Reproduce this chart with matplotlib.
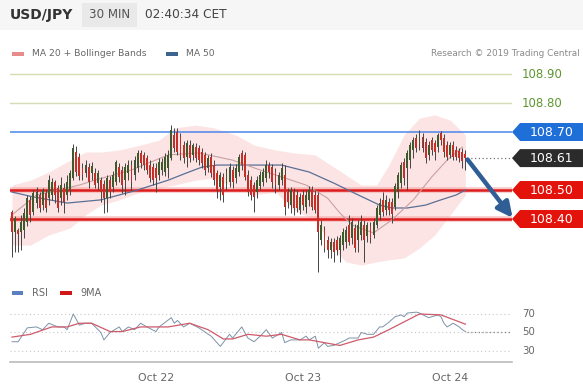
import numpy as np
import matplotlib
matplotlib.use("Agg")
import matplotlib.pyplot as plt
from matplotlib.patches import Polygon, Rectangle

# ---------------- data ----------------
opens = [108.424,108.355,108.362,108.355,108.362,108.390,108.466,108.424,108.455,108.483,
         108.448,108.490,108.472,108.483,108.528,108.507,108.472,108.507,108.483,108.500,
         108.541,108.631,108.614,108.576,108.559,108.579,108.559,108.559,108.524,108.534,
         108.521,108.472,108.534,108.510,108.528,108.579,108.569,108.534,108.559,108.586,
         108.552,108.576,108.628,108.621,108.610,108.586,108.579,108.576,108.552,108.569,
         108.562,108.576,108.610,108.690,108.700,108.683,108.655,108.614,108.655,108.621,
         108.648,108.645,108.631,108.621,108.576,108.614,108.586,108.559,108.510,108.545,
         108.517,108.528,108.569,108.541,108.562,108.628,108.621,108.552,108.534,108.517,
         108.493,108.514,108.528,108.541,108.586,108.579,108.562,108.517,108.534,108.552,
         108.493,108.448,108.493,108.483,108.431,108.483,108.441,108.466,108.500,108.483,
         108.483,108.328,108.362,108.328,108.293,108.321,108.328,108.293,108.310,108.321,
         108.379,108.334,108.369,108.328,108.345,108.379,108.341,108.376,108.345,108.379,
         108.414,108.466,108.431,108.459,108.459,108.441,108.493,108.524,108.597,108.576,
         108.603,108.638,108.679,108.655,108.683,108.666,108.621,108.672,108.662,108.648,
         108.697,108.679,108.655,108.621,108.655,108.638,108.634,108.631,108.624]
highs = [108.431,108.410,108.369,108.414,108.438,108.483,108.479,108.500,108.510,108.493,
         108.507,108.500,108.552,108.541,108.534,108.517,108.545,108.524,108.552,108.569,
         108.659,108.652,108.628,108.593,108.603,108.593,108.597,108.576,108.569,108.545,
         108.534,108.552,108.548,108.566,108.603,108.593,108.583,108.593,108.603,108.603,
         108.617,108.638,108.638,108.631,108.621,108.603,108.593,108.593,108.610,108.610,
         108.628,108.638,108.724,108.714,108.714,108.697,108.669,108.672,108.672,108.662,
         108.662,108.655,108.645,108.631,108.621,108.628,108.603,108.569,108.562,108.559,
         108.576,108.593,108.583,108.590,108.624,108.638,108.631,108.569,108.548,108.528,
         108.548,108.566,108.576,108.603,108.597,108.590,108.576,108.562,108.593,108.586,
         108.507,108.510,108.507,108.500,108.490,108.500,108.500,108.514,108.514,108.500,
         108.493,108.397,108.376,108.341,108.334,108.334,108.341,108.345,108.369,108.376,
         108.414,108.403,108.383,108.397,108.414,108.397,108.390,108.390,108.403,108.448,
         108.472,108.493,108.483,108.472,108.472,108.524,108.562,108.597,108.610,108.638,
         108.666,108.683,108.693,108.707,108.697,108.679,108.669,108.683,108.672,108.697,
         108.703,108.693,108.669,108.666,108.669,108.652,108.645,108.645,108.638]
lows = [108.269,108.286,108.286,108.293,108.334,108.376,108.390,108.414,108.438,108.424,
        108.431,108.424,108.448,108.466,108.455,108.424,108.448,108.421,108.466,108.483,
        108.534,108.548,108.534,108.534,108.545,108.507,108.534,108.507,108.500,108.459,
        108.421,108.424,108.472,108.493,108.517,108.528,108.490,108.483,108.534,108.500,
        108.534,108.562,108.576,108.569,108.555,108.528,108.517,108.493,108.534,108.552,
        108.548,108.541,108.603,108.631,108.621,108.603,108.593,108.579,108.597,108.603,
        108.597,108.586,108.576,108.552,108.562,108.545,108.517,108.472,108.466,108.459,
        108.500,108.510,108.507,108.524,108.548,108.569,108.534,108.479,108.466,108.424,
        108.472,108.500,108.514,108.528,108.541,108.507,108.490,108.500,108.517,108.414,
        108.438,108.421,108.414,108.424,108.417,108.431,108.421,108.445,108.431,108.421,
        108.217,108.310,108.286,108.266,108.266,108.252,108.276,108.252,108.293,108.300,
        108.310,108.314,108.286,108.286,108.328,108.252,108.321,108.317,108.334,108.369,
        108.397,108.410,108.414,108.414,108.386,108.431,108.472,108.507,108.517,108.500,
        108.576,108.610,108.631,108.638,108.631,108.593,108.603,108.621,108.603,108.631,
        108.655,108.614,108.603,108.610,108.603,108.603,108.597,108.576,108.569]
closes = [108.355,108.403,108.348,108.390,108.421,108.472,108.414,108.490,108.493,108.438,
          108.500,108.438,108.534,108.528,108.483,108.438,108.517,108.459,108.528,108.559,
          108.645,108.562,108.548,108.552,108.586,108.528,108.583,108.517,108.559,108.493,
          108.472,108.541,108.493,108.552,108.597,108.545,108.517,108.579,108.586,108.528,
          108.603,108.628,108.593,108.586,108.569,108.541,108.534,108.541,108.597,108.597,
          108.614,108.621,108.707,108.645,108.631,108.621,108.610,108.662,108.610,108.655,
          108.610,108.603,108.593,108.569,108.610,108.559,108.534,108.500,108.552,108.483,
          108.562,108.579,108.528,108.576,108.614,108.586,108.545,108.493,108.483,108.476,
          108.534,108.552,108.562,108.586,108.562,108.528,108.517,108.552,108.576,108.441,
          108.459,108.500,108.438,108.438,108.476,108.448,108.483,108.500,108.441,108.431,
          108.355,108.379,108.300,108.293,108.321,108.286,108.293,108.334,108.355,108.362,
          108.321,108.390,108.300,108.379,108.390,108.328,108.379,108.334,108.390,108.438,
          108.455,108.424,108.466,108.431,108.417,108.514,108.552,108.586,108.541,108.628,
          108.655,108.672,108.645,108.697,108.645,108.610,108.655,108.638,108.631,108.690,
          108.672,108.631,108.614,108.655,108.614,108.614,108.610,108.600,108.610]

# MA 50
ma50_idx = [0, 7, 18, 29, 40, 46, 51, 57, 62, 67, 74, 81, 88, 97, 105, 113, 120, 124, 129, 135, 140, 145, 148]
ma50_val = [108.493, 108.476, 108.455, 108.466, 108.497, 108.517, 108.534, 108.559, 108.579, 108.586,
            108.586, 108.586, 108.586, 108.562, 108.524, 108.483, 108.448, 108.438, 108.438, 108.448,
            108.466, 108.483, 108.500]

# MA 20
ma20_idx = [0, 8, 22, 27, 39, 51, 61, 72, 81, 88, 96, 103, 107, 111, 118, 124, 131, 137, 142, 147]
ma20_val = [108.414, 108.483, 108.517, 108.534, 108.569, 108.621, 108.628, 108.603, 108.569, 108.545,
            108.517, 108.472, 108.421, 108.379, 108.352, 108.397, 108.466, 108.545, 108.603, 108.648]

# Bollinger bands
bb_idx = [0, 6, 12, 19, 24, 29, 35, 42, 48, 53, 60, 66, 73, 79, 86, 92, 99, 104, 109, 114, 119, 123, 128, 133, 138, 143, 148]
bb_upper = [108.517, 108.534, 108.562, 108.603, 108.631, 108.631, 108.638, 108.655, 108.672, 108.714,
            108.724, 108.714, 108.690, 108.655, 108.638, 108.628, 108.621, 108.586, 108.552, 108.517,
            108.517, 108.586, 108.690, 108.748, 108.759, 108.741, 108.690]
bb_lower = [108.310, 108.310, 108.345, 108.369, 108.414, 108.448, 108.466, 108.493, 108.507, 108.517,
            108.534, 108.541, 108.507, 108.483, 108.493, 108.431, 108.397, 108.310, 108.252, 108.241,
            108.252, 108.259, 108.266, 108.300, 108.345, 108.414, 108.483]

# RSI and its 9-period MA
rsi_idx = [0,2,5,8,10,12,15,17,18,20,22,24,26,29,30,32,35,36,38,40,42,44,47,48,52,53,54,56,58,61,
           65,68,71,72,75,77,79,81,83,85,88,89,91,94,96,97,99,100,102,103,105,107,109,110,113,114,
           116,118,120,121,123,125,127,128,129,132,133,136,137,139,140,141,142,144,146,147,148]
rsi_val = [40,40,55,56,53,60,56,56,53,70,58,60,60,50,42,50,56,51,56,53,60,56,51,56,66,60,63,56,60,55,
           46,35,48,44,56,44,40,46,53,44,50,39,42,42,46,42,46,33,39,35,36,39,42,44,44,50,
           48,48,56,56,61,67,69,67,71,72,71,66,67,69,67,60,56,60,56,53,51]
rsi_ma_idx = [0, 6, 13, 18, 22, 26, 32, 36, 42, 51, 58, 64, 69, 72, 77, 83, 88, 94, 97, 107, 113, 118, 123, 133, 140, 148]
rsi_ma_val = [45, 48, 56, 56, 60, 60, 51, 51, 56, 56, 60, 53, 43, 43, 48, 46, 48, 42, 42, 36, 42, 45, 53, 70, 69, 59]

day_ticks = [47, 95, 143]
day_labels = ["Oct 22", "Oct 23", "Oct 24"]

green_levels = [108.90, 108.80]
resistance = 108.70
last_price = 108.61
supports = [108.50, 108.40]
target = 108.40

# ---------------- figure ----------------
W, H = 583, 389
fig = plt.figure(figsize=(W / 100, H / 100), dpi=100)
fig.patch.set_facecolor("white")

def fx(px):
    return px / W

def fy(py):
    return 1 - py / H

# header
fig.patches.append(Rectangle((0, fy(30)), 1, 30 / H, transform=fig.transFigure,
                             facecolor="#f6f6f6", edgecolor="none", zorder=0))
fig.patches.append(Rectangle((fx(82), fy(27)), 55 / W, 24 / H, transform=fig.transFigure,
                             facecolor="#e9e9e9", edgecolor="none", zorder=1))
fig.text(fx(10), fy(15), "USD/JPY", fontsize=10, fontweight="bold", color="#333333", va="center")
fig.text(fx(109.5), fy(15), "30 MIN", fontsize=8.6, color="#555555", va="center", ha="center")
fig.text(fx(145), fy(15), "02:40:34 CET", fontsize=8.7, color="#444444", va="center")

# legend row
fig.patches.append(Rectangle((fx(12), fy(55.5)), 12 / W, 4 / H, transform=fig.transFigure,
                             facecolor="#e78b8b", edgecolor="none"))
fig.text(fx(32), fy(53), "MA 20 + Bollinger Bands", fontsize=6.6, color="#666666", va="center")
fig.patches.append(Rectangle((fx(166), fy(55.5)), 12 / W, 4 / H, transform=fig.transFigure,
                             facecolor="#3d6491", edgecolor="none"))
fig.text(fx(186), fy(53), "MA 50", fontsize=6.6, color="#666666", va="center")
fig.text(fx(580), fy(53), "Research \u00a9 2019 Trading Central", fontsize=6.4, color="#8a8a8a",
         va="center", ha="right")

# ---------------- main price axes ----------------
ax = fig.add_axes([fx(10), fy(282), fx(512) - fx(10), fy(62) - fy(282)])
ax.set_xlim(-0.65, 163.2)
ax.set_ylim(108.1828, 108.9414)
ax.axis("off")

n = len(closes)
idx = np.arange(n)
o = np.array(opens); c = np.array(closes); hi = np.array(highs); lo = np.array(lows)

# Bollinger band fill
ax.fill_between(bb_idx, bb_lower, bb_upper, color="#fbdcdc", alpha=0.75, lw=0, zorder=1)

# level lines
for lv in green_levels:
    ax.axhline(lv, color="#d3deb4", lw=1.0, zorder=2)
    ax.text(1.02, lv, f"{lv:.2f}", transform=ax.get_yaxis_transform(), fontsize=8.5,
            color="#5e9630", va="center", ha="left", clip_on=False)
ax.axhline(resistance, color="#4a86e8", lw=1.1, zorder=2)
for lv in supports:
    ax.axhline(lv, color="#f2a0a0", lw=4, alpha=0.6, zorder=2)
    ax.axhline(lv, color="#dd1c1c", lw=1.8, zorder=3)

# MA lines
ax.plot(ma50_idx, ma50_val, color="#5a6f95", lw=0.9, zorder=3)
ax.plot(ma20_idx, ma20_val, color="#c9a0a0", lw=0.8, zorder=3)

# candles
bull = c >= o
ax.vlines(idx, lo, hi, color="#444444", lw=0.7, zorder=4)
body_lo = np.minimum(o, c)
body_h = np.maximum(np.abs(c - o), 0.004)
ax.bar(idx[bull], body_h[bull], bottom=body_lo[bull], width=0.62, color="#3e5a2c",
       edgecolor="none", zorder=5)
ax.bar(idx[~bull], body_h[~bull], bottom=body_lo[~bull], width=0.62, color="#c2302a",
       edgecolor="none", zorder=5)

# last price dotted line
ax.plot([n - 0.5, 163.2], [last_price, last_price], color="#777777", lw=0.9,
        ls=(0, (1, 2)), zorder=3)

# forecast arrow
ax.annotate("", xy=(163.4, target + 0.004), xytext=(n - 0.3, last_price - 0.005),
            arrowprops=dict(arrowstyle="-|>,head_length=0.9,head_width=0.45",
                            color="#2f5e96", lw=3.2, shrinkA=0, shrinkB=0),
            annotation_clip=False, zorder=6)

# price tags
def tag(level, color):
    trans = ax.get_yaxis_transform()
    hh = 0.031
    poly = Polygon([(1.0, level), (1.016, level + hh), (1.1414, level + hh),
                    (1.1414, level - hh), (1.016, level - hh)], closed=True,
                   transform=trans, facecolor=color, edgecolor="none", clip_on=False, zorder=6)
    ax.add_patch(poly)
    ax.text(1.079, level, f"{level:.2f}", transform=trans, fontsize=9, color="white",
            va="center", ha="center", clip_on=False, zorder=7)

tag(resistance, "#1f6fd8")
tag(last_price, "#2b2b2b")
for lv in supports:
    tag(lv, "#e3120b")

# ---------------- RSI axes ----------------
fig.patches.append(Rectangle((fx(12), fy(295)), 11 / W, 4 / H, transform=fig.transFigure,
                             facecolor="#5b80c2", edgecolor="none"))
fig.text(fx(32), fy(293), "RSI", fontsize=7, color="#666666", va="center")
fig.patches.append(Rectangle((fx(60), fy(295)), 12 / W, 4 / H, transform=fig.transFigure,
                             facecolor="#d01818", edgecolor="none"))
fig.text(fx(80), fy(293), "9MA", fontsize=7, color="#666666", va="center")

ax2 = fig.add_axes([fx(10), fy(362), fx(512) - fx(10), fy(305) - fy(362)])
ax2.set_xlim(-0.65, 163.2)
ax2.set_ylim(18.1, 79.7)
for s in ["top", "left", "right"]:
    ax2.spines[s].set_visible(False)
ax2.spines["bottom"].set_color("#bbbbbb")
ax2.spines["bottom"].set_linewidth(1.2)
ax2.set_yticks([])
for lv in [70, 50, 30]:
    ax2.axhline(lv, color="#c8c8c8", lw=0.8, ls=(0, (1, 2.5)), zorder=1)
    ax2.text(1.021, lv, str(lv), transform=ax2.get_yaxis_transform(), fontsize=7.3,
             color="#666666", va="center", ha="left", clip_on=False)
ax2.plot([n - 0.5, 163.2], [50, 50], color="#888888", lw=0.9, ls=(0, (1, 2)), zorder=2)
ax2.plot(rsi_idx, rsi_val, color="#7d92a8", lw=0.7, zorder=3)
ax2.plot(rsi_ma_idx, rsi_ma_val, color="#cf5a6a", lw=0.9, zorder=4)
ax2.set_xticks(day_ticks)
ax2.set_xticklabels(day_labels, fontsize=7.8, color="#666666")
ax2.tick_params(axis="x", length=0, pad=8)

fig.savefig("out.png", dpi=100, facecolor="white")
